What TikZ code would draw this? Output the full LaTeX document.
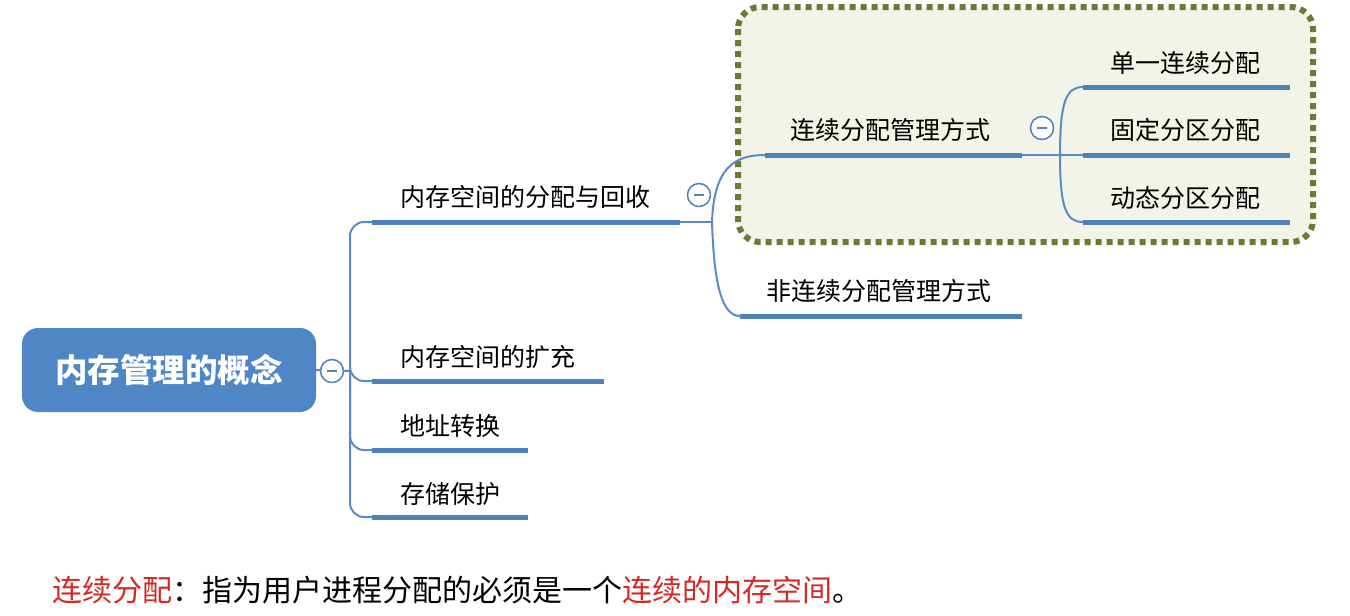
\documentclass[tikz,border=0pt]{standalone}
\usepackage{fontspec}
\newfontfamily\cjk{Noto Sans CJK SC}
\definecolor{nodeblue}{HTML}{4F86C6}
\definecolor{lineblue}{HTML}{5A8BC8}
\definecolor{ulblue}{HTML}{4F81BD}
\definecolor{boxfill}{HTML}{F1F4E6}
\definecolor{boxedge}{HTML}{6B7A34}
\definecolor{redtxt}{HTML}{D42A24}
\begin{document}
\begin{tikzpicture}[x=1pt,y=-1pt,
  lbl/.style={anchor=west,inner sep=0pt,font=\cjk\fontsize{25}{30}\selectfont,text height=0.84em,text depth=0.12em},
  uline/.style={draw=ulblue,line width=5pt},
  conn/.style={draw=lineblue,line width=2pt},
  fold/.style={circle,draw=ulblue,line width=1.5pt,fill=white,minimum size=23pt,inner sep=0pt},
]
\useasboundingbox (0,0) rectangle (1350,616);
\fill[white] (0,0) rectangle (1350,616);
% dotted box
\draw[boxedge,fill=boxfill,line width=6pt,dash pattern=on 6pt off 5pt,rounded corners=22pt] (738,7) rectangle (1313,242);
% root
\node[fill=nodeblue,rounded corners=16pt,minimum width=294pt,minimum height=84pt,text=white,font=\cjk\bfseries\fontsize{32.5}{38}\selectfont] (root) at (169,370) {内存管理的概念};
% coordinates
\coordinate (j0) at (350,371);
\coordinate (a1) at (372,222); \coordinate (a2) at (680,222);
\coordinate (b1) at (372,381); \coordinate (b2) at (604,381);
\coordinate (c1) at (372,450); \coordinate (c2) at (528,450);
\coordinate (d1) at (372,517); \coordinate (d2) at (528,517);
\coordinate (j1) at (712,222);
\coordinate (e1) at (765,155); \coordinate (e2) at (1022,155);
\coordinate (f1) at (740,316); \coordinate (f2) at (1022,316);
\coordinate (j2) at (1060,155);
\coordinate (g1) at (1083,87); \coordinate (g2) at (1290,87);
\coordinate (h1) at (1083,155); \coordinate (h2) at (1290,155);
\coordinate (i1) at (1083,222); \coordinate (i2) at (1290,222);
% connectors level 1
\draw[conn] (root.east) -- (j0);
\draw[conn,rounded corners=14pt] (j0) |- (a1);
\draw[conn,rounded corners=14pt] (j0) |- (b1);
\draw[conn,rounded corners=14pt] (j0) |- (c1);
\draw[conn,rounded corners=14pt] (j0) |- (d1);
% level 2
\draw[conn] (a2) -- (j1);
\draw[conn] (j1) .. controls (714,168) and (734,155) .. (e1);
\draw[conn] (j1) .. controls (714,285) and (722,316) .. (f1);
% level 3
\draw[conn] (e2) -- (h1);
\draw[conn] (j2) .. controls (1060,102) and (1066,87) .. (g1);
\draw[conn] (j2) .. controls (1060,208) and (1066,222) .. (i1);
% underlines
\draw[uline] (a1) -- (a2);
\draw[uline] (b1) -- (b2);
\draw[uline] (c1) -- (c2);
\draw[uline] (d1) -- (d2);
\draw[uline] (e1) -- (e2);
\draw[uline] (f1) -- (f2);
\draw[uline] (g1) -- (g2);
\draw[uline] (h1) -- (h2);
\draw[uline] (i1) -- (i2);
% labels
\node[lbl] (ta) at (400,203) {内存空间的分配与回收};
\node[lbl] (tb) at (400,363) {内存空间的扩充};
\node[lbl] (tc) at (400,432) {地址转换};
\node[lbl] (td) at (400,500) {存储保护};
\node[lbl] (te) at (790,136) {连续分配管理方式};
\node[lbl] (tf) at (766,297) {非连续分配管理方式};
\node[lbl] (tg) at (1110,69) {单一连续分配};
\node[lbl] (th) at (1110,136) {固定分区分配};
\node[lbl] (ti) at (1110,204) {动态分区分配};
% fold circles
\foreach \n/\p in {k0/{(332,371)},k1/{(699,195)},k2/{(1042,128)}}{
  \node[fold] (\n) at \p {};
  \draw[ulblue!70!gray,line width=1.4pt] ([xshift=-5pt]\n.center) -- ([xshift=5pt]\n.center);
}
% bottom note
\node[anchor=west,inner sep=0pt,font=\cjk\fontsize{30}{35}\selectfont] (note) at (52,590)
  {\textcolor{redtxt}{连续分配}：指为用户进程分配的必须是一个\textcolor{redtxt}{连续的内存空间}。};
\end{tikzpicture}
\end{document}
